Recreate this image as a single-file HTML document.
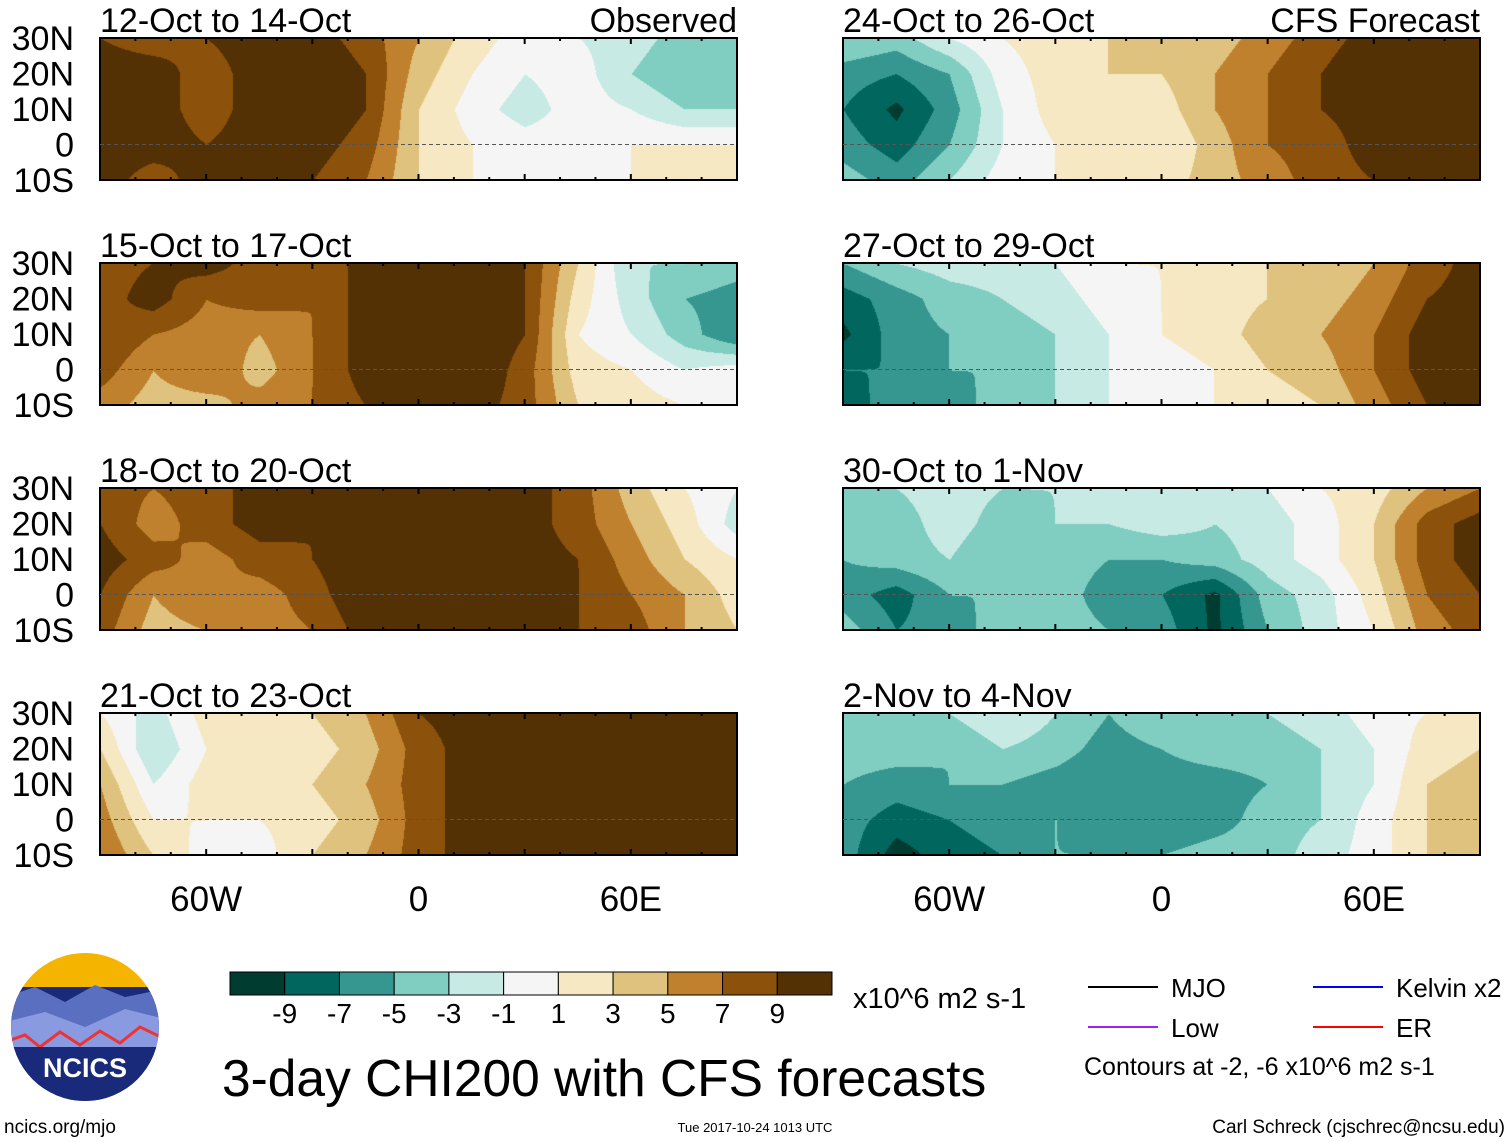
<!DOCTYPE html>
<html><head><meta charset="utf-8">
<style>
body{margin:0;background:#fff;width:1510px;height:1142px;position:relative;overflow:hidden;font-family:"Liberation Sans",sans-serif;}
canvas{position:absolute;}
</style></head><body>
<svg id="ov" width="1510" height="1142" style="position:absolute;left:0;top:0"></svg>
<script>
const lons=[-90,-75,-60,-45,-30,-15,0,15,30,45,60,75,90];
const lats=[30,20,10,0,-10];
const titles=["12-Oct to 14-Oct","15-Oct to 17-Oct","18-Oct to 20-Oct","21-Oct to 23-Oct","24-Oct to 26-Oct","27-Oct to 29-Oct","30-Oct to 1-Nov","2-Nov to 4-Nov"];
const p1=[[9,8,9,10,10,8,5,2,0,-1,-2,-4,-4],[10,10,8,10,11,9,4,1,-1,0,-3,-5,-5],[11,10,8,10,11,9,3,0,-2,0,-1,-3,-3],[10,10,9,10,10,8,3,1,0,0,1,1,1],[10,8,10,10,9,7,3,1,0,0,1,1,1]];
const p2=[[8,9,10,8,7,10,10,10,9,3,-3,-3,-4],[8,10,7,8,7,10,11,11,9,2,-2,-5,-6],[9,7,6,5,7,10,11,11,9,1,-1,-4,-7],[8,5,7,4,7,10,10,11,8,2,1,-1,0],[6,4,4,6,7,9,10,10,8,3,2,1,1]];
const p3=[[8,7,8,10,9,10,11,11,10,8,4,1,-1],[9,6,8,10,9,11,11,11,10,8,5,2,-2],[10,8,6,8,9,11,11,11,10,9,6,3,1],[9,5,7,6,8,11,11,11,10,9,7,5,2],[8,4,5,6,7,10,11,11,10,9,8,5,3]];
const p4=[[1,-2,2,1,3,5,9,10,10,10,10,10,10],[3,-3,1,1,2,4,8,10,10,10,10,10,10],[5,-1,2,1,3,5,8,10,10,10,10,10,10],[6,1,1,1,2,4,8,10,10,10,10,9,9],[7,3,0,0,3,5,8,10,10,10,10,9,9]];
const p5=[[-3,-4,-1,1,2,3,3,4,6,8,10,11,11],[-6,-7,-5,0,2,3,3,5,7,9,11,11,11],[-7,-9.5,-6,-1,2,2,2,5,7,9,10,11,11],[-6,-8,-5,-1,1,1,1,4,7,8,10,10,10],[-4,-6,-3,0,1,1,2,4,6,8,9,10,10]];
const p6=[[-5,-3,-2,-2,-1,1,1,2,3,3,5,8,10],[-8,-6,-4,-3,-2,0,1,2,3,4,6,9,10],[-9.5,-6,-5,-4,-3,-1,1,2,4,5,7,10,10],[-7,-7,-5,-5,-3,-1,0,1,3,4,7,10,10],[-8,-6,-6,-4,-3,-1,0,1,2,3,6,9,10]];
const p7=[[-4,-3,-2,-3,-3,-1,-2,-2,-1,1,2,5,7],[-5,-4,-2,-4,-3,-3,-2,-3,-2,0,3,8,10],[-5,-4,-3,-5,-4,-5,-5,-4,-2,0,3,8,10],[-6,-8,-5,-5,-4,-6,-7,-9.5,-4,-2,2,7,9],[-4,-7,-6,-4,-4,-5,-6,-9.5,-5,-2,1,6,8]];
const p8=[[-3,-3,-3,-1,-3,-5,-3,-3,-3,-2,0,1,2],[-4,-4,-5,-3,-4,-6,-5,-4,-4,-3,-1,2,3],[-5,-6,-5,-5,-6,-7,-6,-6,-5,-3,-1,3,4],[-6,-8,-7,-6,-5,-6,-7,-6,-4,-3,0,3,5],[-6,-10,-8,-7,-5,-5,-5,-4,-4,-2,0,3,5]];
const grids=[p1,p2,p3,p4,p5,p6,p7,p8];
const levels=[-9,-7,-5,-3,-1,1,3,5,7,9];
const colors=["#003c30","#01665e","#35978f","#80cdc1","#c7eae5","#f5f5f5","#f6e8c3","#dfc27d","#bf812d","#8c510a","#543005"];
const cbLabels=["-9","-7","-5","-3","-1","1","3","5","7","9"];
const xTickLabels=["60W","0","60E"], xTickVals=[-60,0,60];
const yTickLabels=["30N","20N","10N","0","10S"], yTickVals=[30,20,10,0,-10];

const PW=637,PH=142;
const colX=[100,843], rowY=[38,263,488,713];
const lonToX=(lon)=>(lon+90)/180*PW;
const latToY=(lat)=>(30-lat)/40*PH;
function hex(c){return [parseInt(c.slice(1,3),16),parseInt(c.slice(3,5),16),parseInt(c.slice(5,7),16)];}
const rgb=colors.map(hex);
function colorIdx(v){let i=0;while(i<levels.length&&v>=levels[i])i++;return i;}
function sample(g,lon,lat){
  let fx=(lon-lons[0])/(lons[1]-lons[0]);fx=Math.max(0,Math.min(lons.length-1.001,fx));
  let fy=(lats[0]-lat)/(lats[0]-lats[1]);fy=Math.max(0,Math.min(lats.length-1.001,fy));
  const i=Math.floor(fx),j=Math.floor(fy),a=fx-i,b=fy-j;
  return g[j][i]*(1-a)*(1-b)+g[j][i+1]*a*(1-b)+g[j+1][i]*(1-a)*b+g[j+1][i+1]*a*b;
}
const ov=document.getElementById('ov');const NS="http://www.w3.org/2000/svg";
function txt(s,x,y,size,anchor,name){const e=document.createElementNS(NS,'text');e.setAttribute('x',x);e.setAttribute('y',y);e.setAttribute('font-size',size);e.setAttribute('font-family','Liberation Sans, sans-serif');if(anchor)e.setAttribute('text-anchor',anchor);e.textContent=s;


ov.appendChild(e);return e;}
grids.forEach((g,k)=>{
  const col=k<4?0:1,row=k%4;const X=colX[col],Y=rowY[row];
  const c=document.createElement('canvas');c.width=PW;c.height=PH;c.style.left=X+'px';c.style.top=Y+'px';
  
  
  document.body.insertBefore(c,ov);
  const ctx=c.getContext('2d');const im=ctx.createImageData(PW,PH);
  for(let y=0;y<PH;y++)for(let x=0;x<PW;x++){
    const lon=x/PW*180-90,lat=30-y/PH*40;const v=sample(g,lon,lat)+0.013;const cc=rgb[colorIdx(v)];
    const o=(y*PW+x)*4;im.data[o]=cc[0];im.data[o+1]=cc[1];im.data[o+2]=cc[2];im.data[o+3]=255;}
  ctx.putImageData(im,0,0);
  const r=document.createElementNS(NS,'rect');r.setAttribute('x',X);r.setAttribute('y',Y);r.setAttribute('width',PW);r.setAttribute('height',PH);r.setAttribute('fill','none');r.setAttribute('stroke','#000');r.setAttribute('stroke-width','2');
  
  
  ov.appendChild(r);
  const eq=document.createElementNS(NS,'line');eq.setAttribute('x1',X);eq.setAttribute('x2',X+PW);eq.setAttribute('y1',Y+latToY(0));eq.setAttribute('y2',Y+latToY(0));eq.setAttribute('stroke','#555');eq.setAttribute('stroke-dasharray','4,3');
  
  
  ov.appendChild(eq);
  for(let lon=-90;lon<=90;lon+=10){const big=lon%30===0;const tx=X+lonToX(lon);
    [[Y,Y+(big?6:3)],[Y+PH,Y+PH-(big?6:3)]].forEach(p=>{const l=document.createElementNS(NS,'line');l.setAttribute('x1',tx);l.setAttribute('x2',tx);l.setAttribute('y1',p[0]);l.setAttribute('y2',p[1]);l.setAttribute('stroke','#000');l.setAttribute('stroke-width','2');
    
    
    ov.appendChild(l);});}
  txt(titles[k],X,Y-6,34,null,'panel-title');
  if(k===0)txt("Observed",X+PW,Y-6,34,'end','observed-label');
  if(k===4)txt("CFS Forecast",X+PW,Y-6,34,'end','cfs-forecast-label');
  if(col===0)yTickLabels.forEach((s,i)=>txt(s,74,Y+latToY(yTickVals[i])+12,34,'end','y-tick-label'));
});
[0,1].forEach(col=>xTickLabels.forEach((s,i)=>txt(s,colX[col]+lonToX(xTickVals[i]),911,35,'middle','x-tick-label')));
const cbX=230,cbW=602,cbY=972,cbH=23,bw=cbW/colors.length;
colors.forEach((c,i)=>{const r=document.createElementNS(NS,'rect');r.setAttribute('x',cbX+i*bw);r.setAttribute('y',cbY);r.setAttribute('width',bw);r.setAttribute('height',cbH);r.setAttribute('fill',c);r.setAttribute('stroke','#000');


ov.appendChild(r);});
cbLabels.forEach((s,i)=>txt(s,cbX+(i+1)*bw,1023,28,'middle','colorbar-label'));
txt("x10^6 m2 s-1",853,1008,29,null,'colorbar-units');
txt("3-day CHI200 with CFS forecasts",222,1096,51.5,null,'chart-title');
const leg=[["MJO","#000",1088,987],["Kelvin x2","#00f",1313,987],["Low","#a020f0",1088,1027],["ER","#f00",1313,1027]];
leg.forEach(l=>{const e=document.createElementNS(NS,'line');e.setAttribute('x1',l[2]);e.setAttribute('x2',l[2]+70);e.setAttribute('y1',l[3]);e.setAttribute('y2',l[3]);e.setAttribute('stroke',l[1]);e.setAttribute('stroke-width','2');


ov.appendChild(e);txt(l[0],l[2]+83,l[3]+10,26,null,'legend-entry');});
txt("Contours at -2, -6 x10^6 m2 s-1",1084,1075,25,null,'contour-note');
txt("ncics.org/mjo",4,1133,19,null,'footer-url');
txt("Tue 2017-10-24 1013 UTC",755,1132,13,'middle','footer-date');
txt("Carl Schreck (cjschrec@ncsu.edu)",1505,1133,19,'end','footer-author');
</script>
<svg width="160" height="160" style="position:absolute;top:947px;left:5px">
<defs><clipPath id="cl"><circle cx="80" cy="80" r="74"/></clipPath></defs>
<g clip-path="url(#cl)">
<rect x="0" y="0" width="160" height="60" fill="#f4b400"/>
<rect x="0" y="40" width="160" height="120" fill="#1a2a7a"/>
<path d="M0 50 L30 40 L60 55 L90 38 L120 50 L160 42 L160 80 L0 90Z" fill="#5a6fc0"/>
<path d="M0 75 L40 65 L80 80 L120 62 L160 72 L160 100 L0 105Z" fill="#8a9ae0"/>
<path d="M0 95 L20 88 L35 100 L55 85 L75 98 L95 84 L115 96 L135 80 L160 92" stroke="#e33" stroke-width="3" fill="none"/>
<rect x="0" y="100" width="160" height="60" fill="#1a2a7a"/>
</g>
<text x="80" y="130" font-size="27" font-weight="bold" fill="#fff" text-anchor="middle" font-family="Liberation Sans, sans-serif">NCICS</text>
</svg>
</body></html>
